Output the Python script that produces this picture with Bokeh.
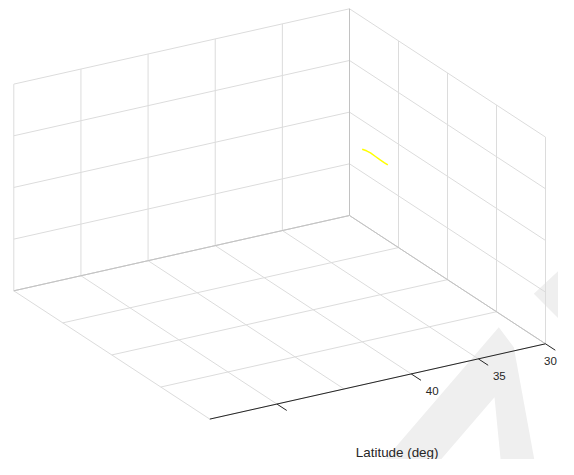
import numpy as np
from bokeh.plotting import figure
from bokeh.models import Range1d
from bokeh.core.properties import value
from bokeh.embed import file_html
from bokeh.resources import INLINE

# ---------------- data ----------------
lat_ticks = [30, 35, 40, 45, 50, 55]          # latitude (deg), gridlines
lat_tick_marks = [30, 35, 40, 50]             # visible tick marks on the latitude axis
lat_tick_labels = ["30", "35", "40"]          # labelled ticks
lat_label_values = [30, 35, 40]
lon_ticks = [-120, -115, -110, -105, -100]    # longitude (deg), gridlines
alt_ticks = [0, 2000, 4000, 6000, 8000]       # altitude (m), gridlines

track_lat = [30.6, 30.5, 30.4, 30.3, 30.2, 30.1, 30.0]
track_lon = [-117.88, -117.58, -117.31, -116.94, -116.56, -116.29, -116.09]
track_alt = [3162, 3163, 3141, 3079, 3017, 2972, 2932]

# watermark (decoration, screen pixels)
wm_lambda_x = [370.7, 498.3, 513.3, 536.7, 501.7, 494.0, 426.7]
wm_lambda_y = [475.0, 326.7, 346.7, 475.0, 475.0, 396.7, 475.0]
wm_diamond_x = [533.3, 561.7, 600.0, 600.0]
wm_diamond_y = [293.3, 266.7, 305.0, 360.0]

# ---------------- 3-D view projection ----------------
LAT0, LAT1 = min(lat_ticks), max(lat_ticks)
LON0, LON1 = min(lon_ticks), max(lon_ticks)
ALT0, ALT1 = min(alt_ticks), max(alt_ticks)
ORIGIN = (349.0, 215.0)                 # screen position of (LAT0, LON0, ALT0)
LAT_VEC = (-335.7, 75.3)                # screen displacement for the whole lat span
LON_VEC = (196.0, 128.3)                # screen displacement for the whole lon span
ALT_VEC = (0.0, -206.7)                 # screen displacement for the whole alt span

W, H = 558, 459


def proj(lat, lon, alt):
    lat = np.asarray(lat, float); lon = np.asarray(lon, float); alt = np.asarray(alt, float)
    a = (lat - LAT0) / (LAT1 - LAT0)
    b = (lon - LON0) / (LON1 - LON0)
    c = (alt - ALT0) / (ALT1 - ALT0)
    x = ORIGIN[0] + a * LAT_VEC[0] + b * LON_VEC[0] + c * ALT_VEC[0]
    y = ORIGIN[1] + a * LAT_VEC[1] + b * LON_VEC[1] + c * ALT_VEC[1]
    return x, y


def seg(p0, p1):
    x0, y0 = proj(*p0)
    x1, y1 = proj(*p1)
    return [float(x0), float(x1)], [float(y0), float(y1)]


grid_xs, grid_ys = [], []
def add(p0, p1):
    xs, ys = seg(p0, p1)
    grid_xs.append(xs); grid_ys.append(ys)

# floor (alt = ALT0)
for la in lat_ticks:
    add((la, LON0, ALT0), (la, LON1, ALT0))
for lo in lon_ticks:
    add((LAT0, lo, ALT0), (LAT1, lo, ALT0))
# left back wall (lon = LON0)
for la in lat_ticks:
    add((la, LON0, ALT0), (la, LON0, ALT1))
for al in alt_ticks:
    add((LAT0, LON0, al), (LAT1, LON0, al))
# right back wall (lat = LAT0)
for lo in lon_ticks:
    add((LAT0, lo, ALT0), (LAT0, lo, ALT1))
for al in alt_ticks:
    add((LAT0, LON0, al), (LAT0, LON1, al))

# darker box edges at the back
box_xs, box_ys = [], []
for p0, p1 in [((LAT0, LON0, ALT0), (LAT0, LON0, ALT1)),
               ((LAT0, LON0, ALT0), (LAT1, LON0, ALT0)),
               ((LAT0, LON0, ALT0), (LAT0, LON1, ALT0))]:
    xs, ys = seg(p0, p1)
    box_xs.append(xs); box_ys.append(ys)

# ---------------- figure ----------------
p = figure(width=W, height=H, x_range=Range1d(0, W), y_range=Range1d(H, 0),
           output_backend="svg", toolbar_location=None, min_border=0)
p.axis.visible = False
p.grid.visible = False
p.outline_line_color = None
p.background_fill_color = "white"
p.border_fill_color = "white"

# watermark
p.patch(wm_lambda_x, wm_lambda_y, fill_color="#efefef", line_color=None)
p.patch(wm_diamond_x, wm_diamond_y, fill_color="#efefef", line_color=None)

p.multi_line(grid_xs, grid_ys, line_color="#dcdcdc", line_width=1)
p.multi_line(box_xs, box_ys, line_color="#c2c2c2", line_width=1)

# latitude axis (front edge)
ax_x, ax_y = seg((LAT0, LON1, ALT0), (LAT1, LON1, ALT0))
p.line(ax_x, ax_y, line_color="#262626", line_width=1)
tick_xs, tick_ys = [], []
for la in lat_tick_marks:
    x0, y0 = proj(la, LON1, ALT0)
    x1, y1 = proj(la, LON1 + 0.05 * (LON1 - LON0), ALT0)
    tick_xs.append([float(x0), float(x1)]); tick_ys.append([float(y0), float(y1)])
p.multi_line(tick_xs, tick_ys, line_color="#262626", line_width=1)

# tick labels: offset from their tick; the one at the plot edge is pulled in to stay visible
lx, ly = proj(lat_label_values, [LON1] * len(lat_label_values), [ALT0] * len(lat_label_values))
lab_x = [float(v) for v in lx]
lab_y = [float(v) for v in ly]
xoff = [21.0 if v + 21.0 + 8 <= W else (W - 8) - v for v in lab_x]
p.text(x=lab_x, y=lab_y, text=lat_tick_labels, x_offset=xoff, y_offset=16.8,
       text_align="center", text_baseline="middle", text_color="#262626",
       text_font=value("Liberation Sans"), text_font_size="11.5px")

mx, my = proj((LAT0 + LAT1) / 2, LON1, ALT0)
p.text(x=[float(mx)], y=[float(my)], text=["Latitude (deg)"], x_offset=19.5, y_offset=71,
       text_align="center", text_baseline="middle", text_color="#262626",
       text_font=value("Liberation Sans"), text_font_size="13.4px")

# flight track
tx, ty = proj(track_lat, track_lon, track_alt)
p.line(list(tx), list(ty), line_color="#ffff00", line_width=1.5)

open("out.html", "w").write(file_html(p, INLINE))
